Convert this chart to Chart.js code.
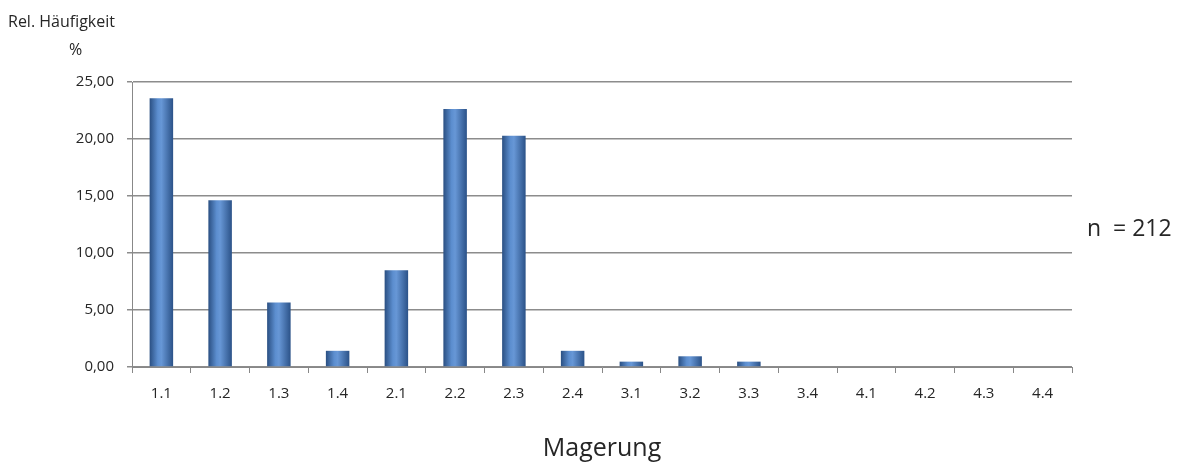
<!DOCTYPE html>
<html>
<head>
<meta charset="utf-8">
<script src="https://cdn.jsdelivr.net/npm/chart.js@4/dist/chart.umd.min.js"></script>
<style>
  html, body { margin: 0; padding: 0; background: #fff; }
  #wrap { width: 1188px; height: 464px; position: relative; }
</style>
</head>
<body>
<div id="wrap"><canvas id="canvas"></canvas></div>
<script>
var categories = ["1.1", "1.2", "1.3", "1.4", "2.1", "2.2", "2.3", "2.4",
                  "3.1", "3.2", "3.3", "3.4", "4.1", "4.2", "4.3", "4.4"];
// relative Häufigkeit in %, n = 212
var percents = [23.58, 14.62, 5.66, 1.42, 8.49, 22.64, 20.28, 1.42,
                0.47, 0.94, 0.47, 0, 0, 0, 0, 0];
var yTicks = [0, 5, 10, 15, 20, 25];

var fontName = "'Open Sans', 'Liberation Sans', sans-serif";
var textColor = "#262626";

function barGradient(c) {
    var chart = c.chart;
    var xs = chart.scales.x;
    if (c.dataIndex === undefined || !xs || !xs.width) return "#4a7bbd";
    var cx = xs.getPixelForValue(c.dataIndex);
    var w = (xs.width / categories.length) * 0.4;
    if (!isFinite(cx) || !isFinite(w)) return "#4a7bbd";
    var g = chart.ctx.createLinearGradient(cx - w / 2, 0, cx + w / 2, 0);
    g.addColorStop(0, "#2a4f82");
    g.addColorStop(0.35, "#5c8ecf");
    g.addColorStop(0.5, "#6797d6");
    g.addColorStop(1, "#2b5288");
    return g;
}

var textPlugin = {
    id: "extraText",
    afterDraw: function (chart) {
        var ctx = chart.ctx;
        ctx.save();
        ctx.fillStyle = textColor;
        ctx.textBaseline = "middle";
        ctx.textAlign = "left";
        ctx.font = "16px " + fontName;
        ctx.fillText("Rel. Häufigkeit", 8, 22);
        ctx.fillText("%", 69, 50);
        ctx.font = "23px " + fontName;
        ctx.fillText("n  = 212", 1087, 229);
        ctx.restore();
    }
};

window.onload = function () {
    var ctx = document.getElementById("canvas").getContext("2d");
    window.myBar = new Chart(ctx, {
        type: "bar",
        data: {
            labels: categories,
            datasets: [{
                data: percents,
                backgroundColor: barGradient,
                borderWidth: 0,
                barPercentage: 0.4,
                categoryPercentage: 1.0
            }]
        },
        plugins: [textPlugin],
        options: {
            responsive: true,
            maintainAspectRatio: false,
            animation: false,
            layout: { padding: { top: 82, right: 116, bottom: 0, left: 0 } },
            plugins: {
                legend: { display: false },
                tooltip: { enabled: false },
                title: { display: false }
            },
            scales: {
                x: {
                    offset: true,
                    grid: {
                        display: true,
                        drawOnChartArea: false,
                        offset: true,
                        color: "#888",
                        tickLength: 6
                    },
                    border: { color: "#888", width: 1 },
                    ticks: {
                        color: textColor,
                        font: { family: fontName, size: 15 },
                        padding: 12,
                        maxRotation: 0
                    },
                    title: {
                        display: true,
                        text: "Magerung",
                        color: textColor,
                        font: { family: fontName, size: 25 },
                        padding: { top: 0, bottom: 0 }
                    },
                    afterFit: function (s) { s.height = 97; }
                },
                y: {
                    min: 0,
                    max: 25,
                    afterBuildTicks: function (s) {
                        s.ticks = yTicks.map(function (v) { return { value: v }; });
                    },
                    grid: {
                        color: "#8c8c8c",
                        tickLength: 5,
                        lineWidth: 1.5
                    },
                    border: { color: "#888", width: 1 },
                    ticks: {
                        color: textColor,
                        font: { family: fontName, size: 15 },
                        padding: 13,
                        callback: function (v) { return v.toFixed(2).replace(".", ","); }
                    },
                    afterFit: function (s) { s.width = 132; }
                }
            }
        }
    });
};
</script>
</body>
</html>
